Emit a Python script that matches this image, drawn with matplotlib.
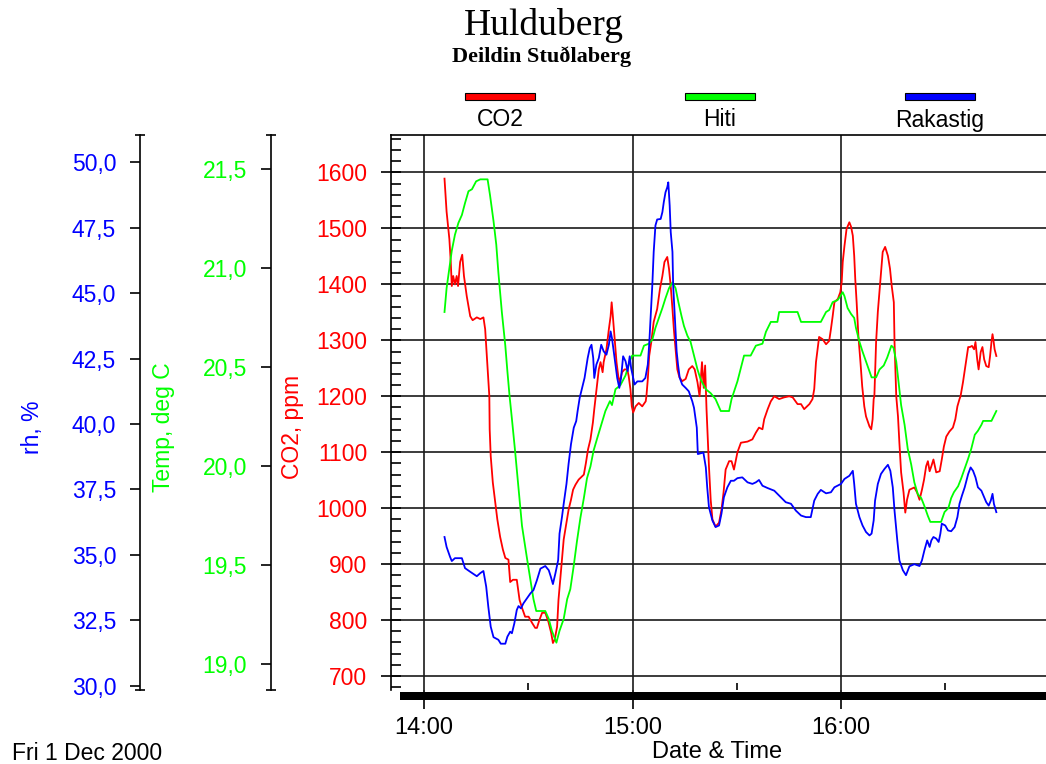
import matplotlib
matplotlib.use("Agg")
import matplotlib.pyplot as plt
from matplotlib.patches import Rectangle
from matplotlib.ticker import MultipleLocator, FixedLocator

# readings of Fri 1 Dec 2000, time given as minutes after 14:00
co2_min = [5.9, 6.5, 7.3, 7.7, 8.0, 8.4, 8.9, 9.4, 9.8, 10.4, 11.0, 11.5, 12.3, 13.3, 14.0, 15.2,
           16.2, 17.1, 17.6, 17.9, 18.3, 18.8, 18.9, 19.2, 19.8, 20.5, 21.1, 21.9, 22.7, 23.4, 24.3,
           24.8, 25.6, 26.7, 27.5, 28.2, 29.1, 30.1, 31.1, 32.0, 32.5, 33.2, 34.0, 34.9, 35.8, 36.6,
           37.1, 37.6, 38.3, 38.7, 39.2, 39.7, 40.2, 41.0, 41.6, 42.3, 42.9, 43.6, 44.5, 46.0, 46.6,
           47.2, 47.9, 48.6, 49.0, 49.5, 50.3, 50.8, 51.4, 51.7, 52.5, 53.2, 53.7, 54.0, 54.3, 54.8,
           55.4, 55.9, 56.3, 57.0, 57.7, 58.5, 58.9, 59.4, 59.8, 60.2, 60.9, 61.8, 62.8, 63.8, 64.0,
           64.4, 64.8, 65.4, 66.1, 67.1, 67.9, 68.6, 69.2, 70.0, 70.5, 71.0, 71.5, 71.9, 72.4, 72.9,
           73.5, 74.3, 75.3, 76.2, 77.2, 77.9, 78.7, 79.3, 80.0, 80.5, 80.9, 81.3, 81.6, 82.0, 82.5,
           83.0, 83.9, 84.9, 85.6, 86.2, 86.8, 87.8, 88.5, 89.2, 90.2, 91.2, 93.1, 94.5, 95.5, 96.4,
           97.4, 97.9, 98.9, 99.8, 100.8, 102.2, 103.6, 105.1, 106.1, 107.5, 108.5, 109.4, 110.9,
           111.8, 112.3, 112.8, 113.7, 114.7, 115.7, 116.6, 117.1, 117.6, 118.1, 119.1, 119.8, 120.2,
           120.5, 121.0, 121.6, 122.4, 122.9, 123.4, 123.8, 124.1, 124.5, 125.0, 125.6, 126.1, 126.7,
           127.2, 128.2, 128.7, 129.1, 129.4, 129.6, 130.1, 130.6, 131.3, 132.0, 132.7, 133.5, 134.1,
           134.6, 135.2, 135.4, 135.9, 136.4, 136.8, 137.3, 138.0, 138.5, 139.0, 139.7, 141.1, 141.9,
           142.6, 143.3, 143.9, 144.5, 145.0, 145.5, 146.0, 146.6, 147.4, 148.4, 149.0, 149.6, 150.3,
           151.2, 152.2, 152.9, 153.5, 154.1, 154.4, 155.1, 155.8, 156.6, 157.1, 157.7, 158.3, 158.7,
           159.2, 159.6, 160.2, 160.7, 161.2, 161.8, 162.5, 162.9, 163.3, 163.6, 163.9, 164.2, 164.7]
co2_ppm = [1589, 1530, 1481, 1440, 1397, 1415, 1400, 1415, 1397, 1440, 1453, 1415, 1379, 1343, 1336, 1341,
           1338, 1341, 1320, 1290, 1248, 1200, 1141, 1093, 1046, 1010, 980, 949, 926, 911, 908,
           868, 872, 872, 836, 822, 806, 806, 795, 786, 786, 800, 813, 813, 797, 777,
           759, 765, 788, 836, 872, 908, 944, 974, 997, 1015, 1033, 1042, 1051, 1060, 1081,
           1105, 1123, 1153, 1177, 1205, 1248, 1261, 1243, 1261, 1284, 1320, 1343, 1368, 1347, 1308,
           1261, 1236, 1225, 1243, 1248, 1248, 1236, 1213, 1182, 1171, 1182, 1188, 1182, 1191, 1200,
           1230, 1272, 1297, 1333, 1356, 1392, 1415, 1440, 1449, 1428, 1397, 1356, 1320, 1284, 1248,
           1234, 1227, 1231, 1248, 1254, 1248, 1225, 1200, 1261, 1215, 1255, 1177, 1135, 1075, 1015,
           980, 967, 974, 997, 1028, 1069, 1084, 1084, 1069, 1100, 1117, 1119, 1123, 1135, 1144,
           1141, 1159, 1177, 1191, 1200, 1195, 1198, 1200, 1198, 1186, 1186, 1177, 1186,
           1195, 1213, 1261, 1306, 1302, 1293, 1299, 1320, 1343, 1368, 1374, 1386, 1404,
           1440, 1469, 1499, 1511, 1503, 1487, 1451, 1410, 1368, 1308, 1261, 1218, 1182,
           1164, 1146, 1141, 1159, 1195, 1200, 1297, 1351, 1404, 1458, 1467, 1451, 1428,
           1397, 1368, 1297, 1200, 1164, 1117, 1064, 1028, 992, 1015, 1033, 1037, 1028,
           1015, 1033, 1051, 1075, 1084, 1066, 1075, 1087, 1064, 1066, 1087, 1110, 1128,
           1137, 1144, 1159, 1182, 1195, 1200, 1225, 1254, 1288, 1288, 1290, 1284, 1297,
           1266, 1248, 1279, 1288, 1266, 1254, 1252, 1272, 1297, 1311, 1299, 1284, 1272]

temp_min = [5.9, 6.5, 7.3, 8.0, 8.9, 9.9, 10.9, 11.8, 12.8, 13.8, 15.0, 16.2, 18.3, 19.0, 20.0, 20.8,
            21.4, 22.4, 23.4, 24.0, 24.6, 25.3, 26.2, 27.2, 28.2, 29.6, 30.6, 31.5, 32.3, 34.9, 35.9,
            36.8, 38.1, 39.0, 40.2, 41.2, 42.1, 43.1, 44.0, 45.0, 46.0, 46.9, 47.9, 48.8, 49.8, 51.0,
            52.2, 53.5, 54.1, 55.1, 56.5, 58.0, 59.2, 59.9, 62.3, 63.3, 64.7, 65.7, 66.6, 67.6, 68.6,
            69.5, 70.5, 71.5, 72.4, 73.2, 74.1, 74.8, 75.8, 76.7, 77.7, 78.7, 79.6, 81.1, 82.5, 83.9,
            85.4, 87.8, 88.5, 90.2, 92.1, 94.0, 95.5, 97.4, 98.4, 99.8, 101.7, 102.2, 107.5, 108.5,
            114.2, 115.7, 116.6, 117.6, 119.0, 119.8, 120.5, 121.0, 121.9, 122.9, 123.8, 124.3, 125.3,
            126.2, 127.2, 128.2, 128.8, 130.1, 131.1, 132.3, 133.3, 134.5, 135.1, 135.9, 136.8, 137.3,
            138.3, 139.2, 140.2, 141.1, 142.1, 143.1, 144.0, 145.0, 145.7, 148.8, 149.8, 150.9, 151.7,
            152.5, 153.7, 154.6, 155.6, 156.6, 157.5, 158.5, 159.4, 160.4, 160.9, 163.3, 164.7]
temp_c = [20.78, 20.90, 21.00, 21.09, 21.17, 21.23, 21.27, 21.33, 21.39, 21.40, 21.44, 21.45, 21.45, 21.37,
          21.24, 21.12, 20.98, 20.78, 20.61, 20.48, 20.36, 20.24, 20.08, 19.89, 19.70, 19.54, 19.43, 19.33,
          19.27, 19.27, 19.23, 19.17, 19.11, 19.17, 19.23, 19.33, 19.38, 19.50, 19.62, 19.74, 19.84, 19.94,
          20.00, 20.08, 20.14, 20.21, 20.28, 20.33, 20.31, 20.39, 20.41, 20.46, 20.53, 20.56, 20.56, 20.61,
          20.62, 20.64, 20.70, 20.75, 20.80, 20.85, 20.90, 20.93, 20.90, 20.83, 20.76, 20.71, 20.66, 20.63,
          20.56, 20.49, 20.44, 20.39, 20.37, 20.34, 20.28, 20.28, 20.34, 20.43, 20.56, 20.56, 20.61, 20.62,
          20.68, 20.73, 20.73, 20.78, 20.78, 20.73, 20.73, 20.78, 20.79, 20.83, 20.84, 20.86, 20.88, 20.86,
          20.80, 20.77, 20.75, 20.70, 20.63, 20.58, 20.53, 20.48, 20.45, 20.45, 20.49, 20.51, 20.55, 20.61,
          20.60, 20.53, 20.39, 20.31, 20.21, 20.09, 20.01, 19.92, 19.86, 19.84, 19.80, 19.75, 19.72, 19.72,
          19.77, 19.79, 19.84, 19.87, 19.90, 19.94, 19.99, 20.04, 20.09, 20.16, 20.18, 20.21, 20.23, 20.23,
          20.28]

rh_min = [5.9, 6.5, 7.5, 8.0, 8.9, 10.9, 11.8, 13.3, 15.2, 16.2, 17.1, 17.9, 18.5, 19.2, 20.0, 21.4,
          22.1, 23.4, 24.0, 24.8, 25.3, 26.0, 26.7, 27.2, 27.9, 28.6, 29.6, 30.6, 31.5, 32.5, 33.5,
          34.9, 35.9, 36.5, 37.1, 37.8, 38.6, 39.0, 39.7, 40.2, 41.0, 41.6, 42.3, 43.1, 43.8, 44.2,
          44.8, 45.5, 46.2, 47.1, 47.7, 48.2, 48.7, 49.0, 49.6, 50.3, 51.0, 51.7, 52.5, 53.2, 53.7,
          54.1, 54.6, 55.1, 55.6, 56.2, 56.7, 57.3, 58.0, 58.6, 59.2, 59.6, 60.2, 60.6, 61.4, 62.8,
          63.7, 64.4, 64.8, 65.2, 65.7, 66.1, 66.6, 67.1, 68.1, 68.6, 69.0, 69.5, 70.0, 70.3, 70.7,
          71.0, 71.5, 71.7, 72.1, 72.4, 72.7, 73.1, 73.6, 74.3, 75.3, 76.2, 77.2, 77.7, 78.5, 78.8,
          80.4, 81.1, 81.5, 82.0, 83.0, 83.9, 84.9, 85.6, 86.3, 87.3, 88.3, 89.2, 90.2, 91.6, 93.1,
          94.5, 95.5, 96.4, 97.4, 98.9, 100.8, 102.7, 104.1, 105.6, 107.0, 108.5, 109.9, 111.3, 112.3,
          113.3, 114.2, 115.7, 117.1, 118.1, 119.0, 120.0, 121.0, 122.4, 123.4, 123.8, 124.3, 125.3,
          126.2, 127.2, 128.2, 128.8, 129.4, 129.8, 130.6, 131.5, 132.5, 133.5, 134.2, 134.9, 135.4,
          136.2, 136.8, 137.8, 138.7, 139.7, 141.1, 142.6, 143.3, 144.0, 144.8, 145.5, 146.0, 146.6,
          147.4, 148.1, 148.6, 149.0, 150.0, 150.8, 151.7, 152.7, 153.5, 154.1, 154.8, 155.6, 156.6,
          157.3, 158.0, 158.7, 159.4, 160.4, 161.2, 161.8, 162.5, 163.1, 163.6, 164.0, 164.7]
rh_pct = [35.68, 35.30, 34.92, 34.76, 34.87, 34.87, 34.49, 34.35, 34.18, 34.30, 34.38, 33.78, 33.02, 32.25,
          31.85, 31.75, 31.60, 31.60, 31.87, 32.06, 32.00, 32.38, 32.89, 33.04, 32.95, 33.14, 33.33, 33.52,
          33.65, 34.03, 34.47, 34.57, 34.41, 34.16, 33.88, 34.28, 34.79, 35.81, 36.44, 36.95, 37.71, 38.47,
          39.23, 39.86, 40.11, 40.49, 41.00, 41.38, 41.76, 42.52, 42.90, 43.03, 42.52, 41.76, 42.27, 42.52,
          43.03, 42.78, 42.65, 43.03, 43.54, 43.28, 42.78, 42.27, 41.76, 41.38, 41.76, 42.59, 42.40, 42.02,
          42.59, 42.14, 41.76, 41.51, 41.63, 41.63, 41.76, 42.27, 43.03, 44.04, 45.31, 46.58, 47.59, 47.82,
          47.84, 48.10, 48.48, 48.86, 49.05, 49.24, 48.35, 47.34, 46.58, 45.31, 44.30, 43.54, 42.78, 42.27,
          41.76, 41.51, 41.38, 41.25, 40.87, 40.62, 39.86, 38.85, 38.91, 38.34, 37.58, 36.82, 36.31, 36.06,
          36.12, 36.57, 37.20, 37.58, 37.83, 37.83, 37.93, 37.96, 37.77, 37.71, 37.77, 37.86, 37.64, 37.55,
          37.45, 37.20, 37.01, 36.95, 36.69, 36.50, 36.44, 36.44, 37.07, 37.33, 37.48, 37.35, 37.39, 37.58,
          37.64, 37.71, 37.90, 38.02, 38.21, 37.71, 36.95, 36.44, 36.12, 35.87, 35.74, 35.81, 36.31, 37.07,
          37.71, 38.09, 38.28, 38.44, 38.21, 37.58, 36.69, 35.55, 34.79, 34.41, 34.22, 34.56, 34.64, 34.57,
          34.79, 35.17, 35.55, 35.30, 35.55, 35.68, 35.62, 35.49, 35.81, 36.19, 36.12, 35.93, 35.90, 36.06,
          36.44, 36.95, 37.26, 37.58, 38.09, 38.34, 38.21, 37.96, 37.58, 37.45, 37.20, 37.01, 36.88, 37.07,
          37.33, 36.95, 36.63]

series_names = ["CO2", "Hiti", "Rakastig"]
series_colors = ["#ff0000", "#00ff00", "#0000ff"]

co2_ticks = [700, 800, 900, 1000, 1100, 1200, 1300, 1400, 1500, 1600]
temp_ticks = [19.0, 19.5, 20.0, 20.5, 21.0, 21.5]
rh_ticks = [30.0, 32.5, 35.0, 37.5, 40.0, 42.5, 45.0, 47.5, 50.0]
hour_ticks = [14, 15, 16]
hour_labels = ["14:00", "15:00", "16:00"]

plt.rcParams['font.family'] = ['Liberation Sans', 'DejaVu Sans']

W, H = 1046, 764
PT = 0.72  # points per pixel at dpi 100


def hours(mins):
    return [14 + m / 60 for m in mins]


def comma(v):
    return f"{v:.1f}".replace(".", ",")


fig = plt.figure(figsize=(W / 100, H / 100), dpi=100)
ax = fig.add_axes([391 / W, 74 / H, 655 / W, 555 / H])
ax_t = ax.twinx()
ax_rh = ax.twinx()

ax.set_xlim(14 - 33 / 208.5, 14 + 622 / 208.5)
ax.set_ylim(675, 1667)
ax_t.set_ylim(18.871, 21.674)
ax_rh.set_ylim(29.83, 51.05)

ax.plot(hours(co2_min), co2_ppm, color=series_colors[0], lw=1.3)
ax_t.plot(hours(temp_min), temp_c, color=series_colors[1], lw=1.3)
ax_rh.plot(hours(rh_min), rh_pct, color=series_colors[2], lw=1.3)

# main frame and grid
for s in ["right", "bottom"]:
    ax.spines[s].set_visible(False)
ax.spines["left"].set_linewidth(1.2)
ax.spines["top"].set_linewidth(1.2)
ax.grid(True, which="major", color="#1a1a1a", lw=1.2)
ax.set_axisbelow(True)
ax.add_patch(Rectangle(((400 - 391) / 655, -10 / 555), 1.0, 8 / 555, transform=ax.transAxes,
                       facecolor="black", edgecolor="none", clip_on=False))

ax.set_xticks(hour_ticks, hour_labels)
ax.xaxis.set_minor_locator(FixedLocator([14.5, 15.5, 16.5]))
ax.tick_params(axis="x", which="major", direction="out", length=19 * PT, width=1.2,
               pad=8 * PT, labelsize=17)
ax.tick_params(axis="x", which="minor", direction="in", length=7 * PT, width=1.2)
ax.set_xlabel("Date & Time", fontsize=17)
ax.xaxis.set_label_coords(0.498, -0.112)
ax.xaxis.label.set_verticalalignment("center")

ax.set_yticks(co2_ticks, [str(v) for v in co2_ticks])
ax.yaxis.set_minor_locator(MultipleLocator(20))
ax.tick_params(axis="y", which="major", direction="inout", length=20 * PT, width=1.2,
               pad=10, labelsize=16.5, labelcolor=series_colors[0])
ax.tick_params(axis="y", which="minor", direction="in", length=10 * PT, width=1.2)
ax.set_ylabel("CO2, ppm", color=series_colors[0], fontsize=16.5)

# extra value axes on the left
extra = [(ax_t, -0.1832, temp_ticks, "Temp, deg C", series_colors[1], -0.348),
         (ax_rh, -0.3832, rh_ticks, "rh, %", series_colors[2], -0.548)]
for a, pos, ticks, label, color, lab_x in extra:
    for s in ["right", "top", "bottom"]:
        a.spines[s].set_visible(False)
    a.spines["left"].set_visible(True)
    a.spines["left"].set_position(("axes", pos))
    a.spines["left"].set_linewidth(1.2)
    a.yaxis.set_ticks_position("left")
    a.yaxis.set_label_position("left")
    a.set_yticks(ticks, [comma(v) for v in ticks])
    lo, hi = a.get_ylim()
    a.yaxis.set_minor_locator(FixedLocator([lo, hi]))
    a.tick_params(axis="y", which="major", direction="out", length=10 * PT, width=1.2,
                  pad=10, labelsize=16.5, labelcolor=color)
    a.tick_params(axis="y", which="minor", direction="inout", length=10 * PT, width=1.2)
    a.set_ylabel(label, color=color, fontsize=16.5)
    a.yaxis.set_label_coords(lab_x, 0.474)
    a.yaxis.label.set_verticalalignment("center")

ax.yaxis.set_label_coords(-0.151, 0.474)
ax.yaxis.label.set_verticalalignment("center")

# titles
fig.text(544 / W, 1 - 35 / H, "Hulduberg", ha="center", va="baseline",
         family="Liberation Serif", fontsize=27)
fig.text(542 / W, 1 - 62 / H, "Deildin Stuðlaberg", ha="center", va="baseline",
         family="Liberation Serif", fontweight="bold", fontsize=16)

# legend bars above the plot
for name, color, cx in zip(series_names, series_colors, [500, 720, 940]):
    fig.add_artist(Rectangle(((cx - 35) / W, 1 - 99.5 / H), 70 / W, 7 / H,
                             transform=fig.transFigure, facecolor=color,
                             edgecolor="black", lw=0.8))
    fig.text(cx / W, 1 - 120 / H, name, ha="center", va="center", fontsize=16.5)

fig.text(12 / W, 1 - 753 / H, "Fri 1 Dec 2000", ha="left", va="center", fontsize=16.5)

fig.savefig("out.png", dpi=100)
